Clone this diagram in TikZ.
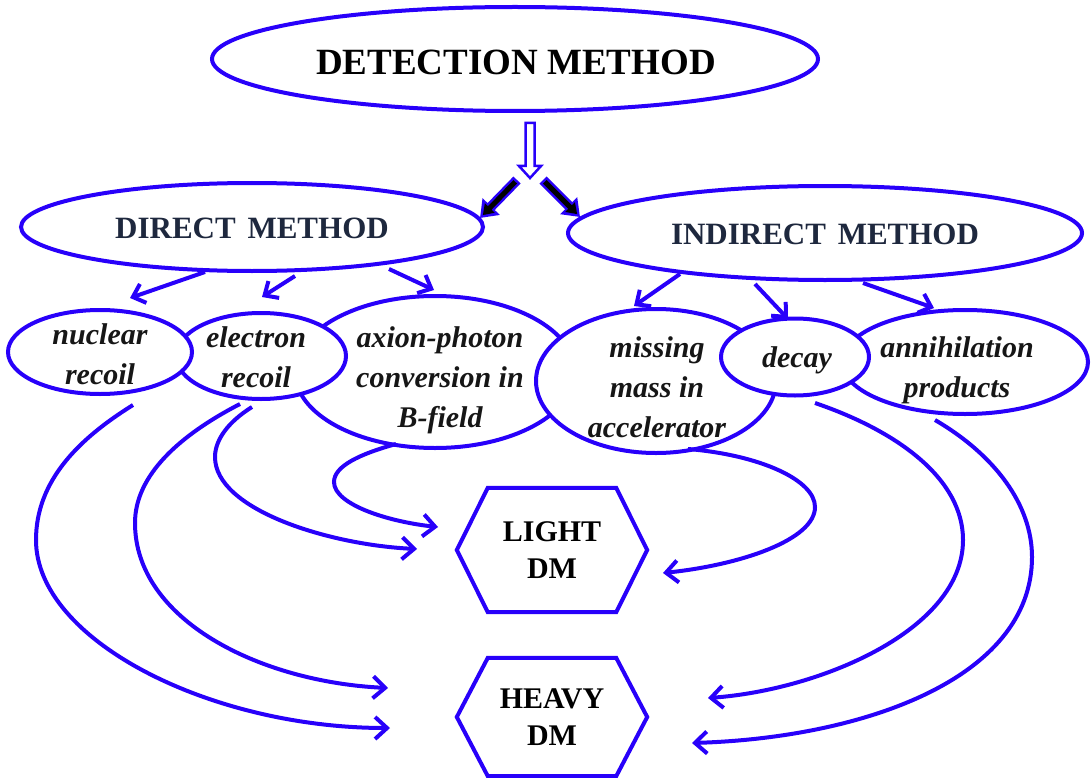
\documentclass[tikz,border=0pt]{standalone}
\usepackage{fontspec}
\setmainfont{Liberation Serif}
\usetikzlibrary{arrows.meta,shapes.geometric,calc}
\definecolor{lineblue}{RGB}{40,0,250}
\definecolor{navytext}{RGB}{30,40,62}
\definecolor{softblack}{RGB}{22,22,22}

\begin{document}
\begin{tikzpicture}[x=1pt,y=-1pt,
  oval/.style={ellipse, draw=lineblue, line width=4, fill=white, inner sep=0},
  ovaltext/.style={align=center, font=\fontsize{30}{40}\selectfont\bfseries\itshape, text=softblack, inner sep=0},
  methodtext/.style={font=\fontsize{31}{36}\selectfont\bfseries, text=navytext, inner sep=0},
  hexbox/.style={align=center, font=\fontsize{30}{37}\selectfont\bfseries, inner sep=0},
  hexline/.style={draw=lineblue, line width=4, line join=miter},
  feed/.style={draw=lineblue, line width=4, -{Straight Barb[length=11,width=20]}},
  flow/.style={draw=lineblue, line width=4, -{Straight Barb[length=12,width=22]}},
  hollow/.style={draw=lineblue, line width=2.5, fill=white, line join=miter},
]
\fill[white] (0,0) rectangle (1091,778);
\useasboundingbox (0,0) rectangle (1091,778);

% top level
\node[oval, minimum width=606, minimum height=104] (det) at (515,59) {};
\node[font=\fontsize{37}{42}\selectfont\bfseries, inner sep=0] (dettext) at (516,62.5) {DETECTION METHOD};

% two methods
\node[oval, minimum width=462, minimum height=88] (dir) at (252,227) {};
\node[methodtext] (dirtext) at (252,228) {DIRECT\hspace{4pt} METHOD};
\node[oval, minimum width=514, minimum height=94] (ind) at (825,233) {};
\node[methodtext] (indtext) at (825,234) {INDIRECT\hspace{4pt} METHOD};

% channels (back to front)
\node[oval, minimum width=280, minimum height=152] (axi) at (435,372) {};
\node[oval, minimum width=170, minimum height=86] (ele) at (261,356) {};
\node[oval, minimum width=184, minimum height=84] (nuc) at (100,352) {};
\node[oval, minimum width=246, minimum height=104] (ann) at (965,362) {};
\node[oval, minimum width=240, minimum height=144] (mis) at (656,381) {};
\node[oval, minimum width=148, minimum height=77] (dec) at (795,357) {};

\node[ovaltext] (nuctext) at (100,354) {nuclear\\recoil};
\node[ovaltext] (eletext) at (256,357) {electron\\recoil};
\node[ovaltext] (axitext) at (440,380) {axion-photon\\conversion in\\B-field};
\node[ovaltext] (mistext) at (657,387) {missing\\mass in\\accelerator};
\node[ovaltext] (dectext) at (797,360) {decay};
\node[ovaltext] (anntext) at (957,370) {annihilation\\products};

% dark matter classes
\node[hexbox, minimum width=190, minimum height=124] (light) at (552,550) {LIGHT\\DM};
\draw[hexline] ([xshift=31]light.north west) -- ([xshift=-31]light.north east) -- (light.east)
  -- ([xshift=-31]light.south east) -- ([xshift=31]light.south west) -- (light.west) -- cycle;
\node[hexbox, minimum width=190, minimum height=118] (heavy) at (552,717) {HEAVY\\DM};
\draw[hexline] ([xshift=31]heavy.north west) -- ([xshift=-31]heavy.north east) -- (heavy.east)
  -- ([xshift=-31]heavy.south east) -- ([xshift=31]heavy.south west) -- (heavy.west) -- cycle;

% hollow arrow below the top oval
\coordinate (holtop) at (530,123);
\coordinate (holtip) at (530,178);
\draw[hollow] (holtop) ++(-4.5,0) -- ++(9,0) -- ++(0,43) -- ++(6.5,0) -- (holtip)
  -- ++(-11,-12) -- ++(6.5,0) -- cycle;

% split arrows towards the two methods
\coordinate (bl0) at (517,180);
\coordinate (bl1) at (480,218);
\coordinate (br0) at (543,180);
\coordinate (br1) at (580,217);
\foreach \a/\b in {bl0/bl1, br0/br1}{
  \draw[line width=10, lineblue, -{Triangle[length=16,width=23]}] (\a) -- (\b);
  \draw[line width=5, black, shorten <=2.5, shorten >=4, -{Triangle[length=10,width=13]}] (\a) -- (\b);
}

% method to channel arrows
\coordinate (d1s) at (205,272); \coordinate (d1e) at (130,298);
\coordinate (d2s) at (295,276); \coordinate (d2e) at (262,297);
\coordinate (d3s) at (389,269); \coordinate (d3e) at (434,290);
\coordinate (i1s) at (680,274); \coordinate (i1e) at (634,306);
\coordinate (i2s) at (755,284); \coordinate (i2e) at (788,319);
\coordinate (i3s) at (863,283); \coordinate (i3e) at (934,308);
\draw[feed] (d1s) -- (d1e);
\draw[feed] (d2s) -- (d2e);
\draw[feed] (d3s) -- (d3e);
\draw[feed] (i1s) -- (i1e);
\draw[feed] (i2s) -- (i2e);
\draw[feed] (i3s) -- (i3e);

% channel to dark matter class curves
\coordinate (c1s) at (133,405); \coordinate (c1e) at (390,728);
\coordinate (c2s) at (240,404); \coordinate (c2e) at (388,688);
\coordinate (c3s) at (252,407); \coordinate (c3e) at (417,549);
\coordinate (c4s) at (396,444); \coordinate (c4e) at (438,527);
\coordinate (c5s) at (688,449); \coordinate (c5e) at (663,573);
\coordinate (c6s) at (815,403); \coordinate (c6e) at (708,698);
\coordinate (c7s) at (935,420); \coordinate (c7e) at (692,743);

\draw[flow] (c1s) .. controls (80,438) and (36,480) .. (36,540)
  .. controls (36,640) and (210,728) .. (c1e);
\draw[flow] (c2s) .. controls (180,435) and (135,475) .. (135,523)
  .. controls (135,620) and (260,682) .. (c2e);
\draw[flow] (c3s) .. controls (228,422) and (215,440) .. (215,457)
  .. controls (215,510) and (330,545) .. (c3e);
\draw[flow] (c4s) .. controls (360,454) and (334,466) .. (334,482)
  .. controls (334,505) and (390,522) .. (c4e);
\draw[flow] (c5s) .. controls (760,455) and (815,480) .. (815,507)
  .. controls (815,540) and (740,565) .. (c5e);
\draw[flow] (c6s) .. controls (900,432) and (963,480) .. (963,540)
  .. controls (963,630) and (820,690) .. (c6e);
\draw[flow] (c7s) .. controls (995,455) and (1032,505) .. (1032,557)
  .. controls (1032,680) and (860,738) .. (c7e);
\end{tikzpicture}
\end{document}
